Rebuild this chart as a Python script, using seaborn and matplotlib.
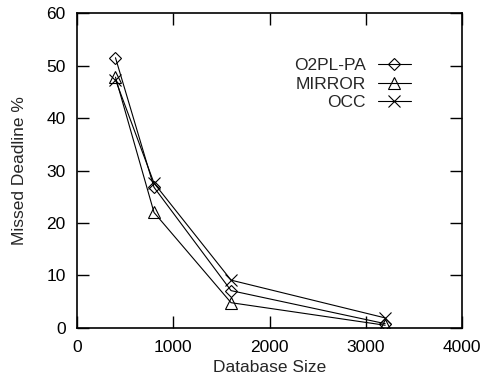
import numpy as np
import pandas as pd
import matplotlib
matplotlib.use("Agg")
import matplotlib.pyplot as plt
import seaborn as sns

# Datos
db_size = [400, 800, 1600, 3200]
o2pl_pa = [51.5, 26.8, 7.1, 0.8]
mirror = [47.8, 22.0, 4.8, 0.5]
occ = [47.3, 27.6, 9.1, 1.9]

series = {
    "O2PL-PA": (o2pl_pa, "D", 6.5),
    "MIRROR": (mirror, "^", 8.5),
    "OCC": (occ, "x", 9),
}

sns.set_style("ticks")
plt.rcParams["font.family"] = ["Liberation Sans", "DejaVu Sans"]
fs = 12.5
plt.rcParams["font.size"] = fs

fig = plt.figure(figsize=(4.84, 3.76), dpi=100)
ax = fig.add_axes([0.159, 0.128, 0.796, 0.837])

for nombre, (valores, marcador, tam) in series.items():
    df = pd.DataFrame({"x": db_size, "y": valores})
    sns.lineplot(data=df, x="x", y="y", ax=ax, color="black", lw=0.8,
                 marker=marcador, markersize=tam, mfc="none", mec="black",
                 mew=0.8, label=nombre)

ax.set_xlim(0, 4000)
ax.set_ylim(0, 60)
ax.set_xticks([0, 1000, 2000, 3000, 4000])
ax.set_yticks(range(0, 61, 10))
ax.set_xlabel("Database Size", labelpad=3, fontsize=fs)
ax.set_ylabel("Missed Deadline %", labelpad=14, fontsize=fs)

for lado in ["left", "right", "top", "bottom"]:
    ax.spines[lado].set_linewidth(1.2)
    ax.spines[lado].set_color("black")
ax.tick_params(direction="in", length=8.5, width=1.0, top=True, right=True,
               colors="black", labelsize=fs)
ax.tick_params(axis="y", pad=8)
ax.tick_params(axis="x", pad=9)

ax.legend(loc="upper right", bbox_to_anchor=(0.885, 0.88), frameon=False,
          markerfirst=False, handlelength=1.9, handletextpad=0.7,
          labelspacing=0.2, borderaxespad=0, fontsize=fs)

fig.savefig("out.png", dpi=100)
